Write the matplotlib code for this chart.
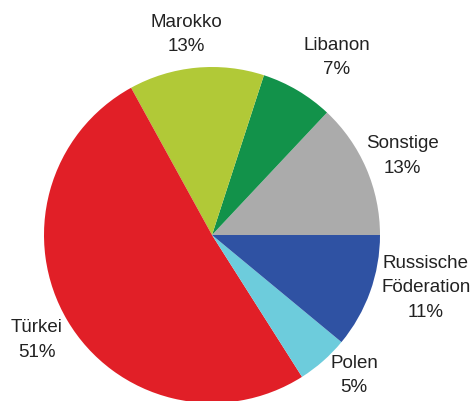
import matplotlib
matplotlib.use("Agg")
import matplotlib.pyplot as plt

# shares in percent, counter-clockwise from 3 o'clock
countries = ["Sonstige", "Libanon", "Marokko", "Türkei", "Polen", "Russische\nFöderation"]
shares = [13, 7, 13, 51, 5, 11]
colors = ["#ABABAB", "#12924A", "#B1C937", "#E11F27", "#6DCCDC", "#2F52A3"]

# label block centres in pixel coordinates (origin bottom left)
label_pos = [(402, 245), (337, 343.5), (186.5, 366.5), (36.5, 61), (354, 25.5), (426, 113)]

W, H = 472, 401
fig = plt.figure(figsize=(W / 100, H / 100), dpi=100)
ax = fig.add_axes([0, 0, 1, 1])

ax.pie(shares, colors=colors, startangle=0, counterclock=True,
       center=(212, 166), radius=168, frame=False,
       wedgeprops={"linewidth": 0})
ax.set_xlim(0, W)
ax.set_ylim(0, H)
ax.set_aspect("equal")
ax.axis("off")

for name, val, (x, y) in zip(countries, shares, label_pos):
    ax.text(x, y, f"{name}\n{val}%", ha="center", va="center",
            fontsize=13.5, family="Liberation Sans", color="#222222",
            linespacing=1.6)

fig.savefig("out.png", dpi=100)
